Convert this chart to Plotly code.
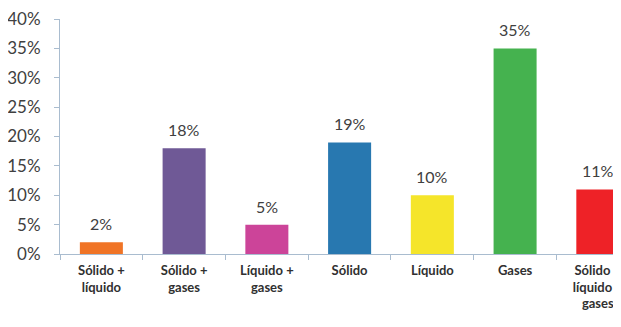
import plotly.graph_objects as go

categories = ["Sólido +<br>líquido", "Sólido +<br>gases", "Líquido +<br>gases", "Sólido",
              "Líquido", "Gases", "Sólido +<br>líquido +<br>gases"]
values = [2, 18, 5, 19, 10, 35, 11]
colors = ["#F07426", "#6F5996", "#CC4499", "#2878B0", "#F5E52A", "#45B24F", "#EE2227"]
y_ticks = [0, 5, 10, 15, 20, 25, 30, 35, 40]
y_tick_labels = [f"{t}%" for t in y_ticks]

fig = go.Figure(go.Bar(
    x=categories, y=values,
    marker=dict(color=colors, line=dict(width=0)),
    width=0.52,
    hoverinfo="x+y",
))

for c, v in zip(categories, values):
    fig.add_annotation(
        x=c, y=v, text=f"{v}%", showarrow=False,
        yanchor="bottom", yshift=7,
        font=dict(family="Lato", size=16, color="#404040"),
    )

axis_color = "#A9BCCF"
# the page body keeps the browser's default 8px margin, so the figure is sized to fit beside it
fig.update_layout(
    width=613, height=319,
    margin=dict(l=52, r=0, t=11, b=73),
    paper_bgcolor="white", plot_bgcolor="white",
    showlegend=False,
    font=dict(family="Lato", color="#404040"),
    xaxis=dict(
        range=[-0.5, 6.28], automargin=False,
        showline=True, linecolor=axis_color, linewidth=1,
        ticks="outside", tickson="boundaries", ticklen=5, tickcolor=axis_color,
        tickfont=dict(family="Lato", size=13, color="#303030", weight="bold"),
        ticklabelstandoff=4, ticklabeloverflow="allow",
        showgrid=False, zeroline=False,
    ),
    yaxis=dict(
        range=[0, 40], tickvals=y_ticks, ticktext=y_tick_labels, automargin=False,
        showline=True, linecolor=axis_color, linewidth=1,
        ticks="outside", ticklen=5, tickcolor=axis_color,
        tickfont=dict(family="Lato", size=17, color="#404040"),
        ticklabelstandoff=10, ticklabeloverflow="allow",
        showgrid=False, zeroline=False,
    ),
)

fig.write_html("out.html")
